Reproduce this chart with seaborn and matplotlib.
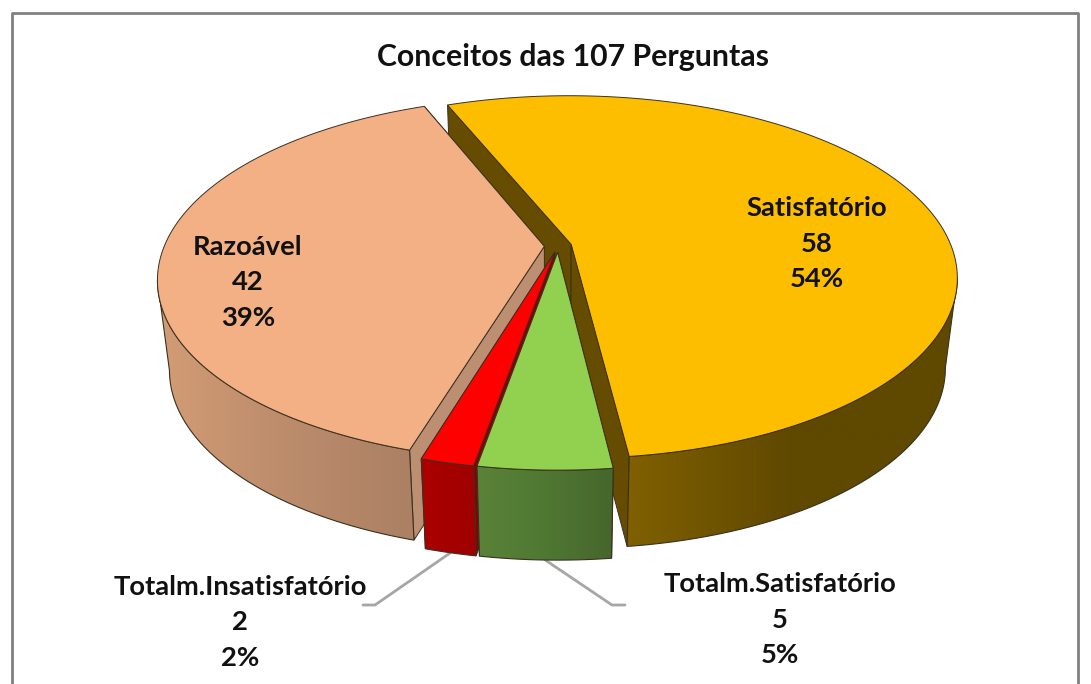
import numpy as np
import matplotlib
matplotlib.use("Agg")
import matplotlib.pyplot as plt
from matplotlib.patches import Polygon
import seaborn as sns

# dados do grafico
categorias = ["Satisfatório", "Totalm.Satisfatório", "Totalm.Insatisfatório", "Razoável"]
valores = [58, 5, 2, 42]
titulo = "Conceitos das 107 Perguntas"

cores_topo = ["#FDBE00", "#92D050", "#FF0000", "#F3B085"]
cores_parede = ["#654C00", "#4A6E2E", "#8E0000", "#BC8F73"]
cores_lado = [["#806000", "#5F4800", "#5F4800"],
              ["#5A8238", "#4F7833", "#46662C"],
              ["#AC0000", "#A50000", "#A00000"],
              ["#D39C75", "#BC8C6C", "#AB8063"]]

pos_rotulos = [(817, 208), (780, 584), (240, 587), (248, 247)]
pos_guias = [None, (612, 605, 625), (375, 605, 363), None]

angulo_inicial = -22.0
explosao = 0.036
cx, cy = 558, 246
a, b, k = 380, 176, 0.18
profundidade = 90
estreita = 0.03
contorno = "#3A3020"

sns.set_theme(style="white")
plt.rcParams["font.family"] = ["Lato", "DejaVu Sans"]


def projeta(x, y, z=0.0):
    """Passa do plano da pizza para pixels, com perspectiva (z=1 e o disco de baixo)."""
    w = 1 + k * y
    return cx + a * x / w * (1 - estreita * z), cy - b * y / w + profundidade * z


def pontos_aro(teta, ox, oy, z=0.0):
    return np.column_stack(projeta(np.sin(teta) + ox, np.cos(teta) + oy, z))


def desenha_fatia(ax, inicio, fim, cor_topo, cor_parede, cor_lado, ordem):
    meio = (inicio + fim) / 2
    ox, oy = explosao * np.sin(meio), explosao * np.cos(meio)
    teta = np.linspace(inicio, fim, 200)
    centro_topo = np.array(projeta(ox, oy, 0))
    centro_baixo = np.array(projeta(ox, oy, 1))

    # paredes internas, primeiro a mais distante
    for t in sorted((inicio, fim), key=lambda v: -np.cos(v)):
        p_topo = pontos_aro(np.array([t]), ox, oy, 0)[0]
        p_baixo = pontos_aro(np.array([t]), ox, oy, 1)[0]
        ax.add_patch(Polygon([centro_topo, p_topo, p_baixo, centro_baixo], closed=True, facecolor=cor_parede,
                             edgecolor=contorno, linewidth=0.7, zorder=ordem))

    # lado de fora, so a parte virada para quem olha
    visivel = teta[np.cos(teta) < -k]
    if len(visivel) > 1:
        cima = pontos_aro(visivel, ox, oy, 0)
        baixo = pontos_aro(visivel, ox, oy, 1)
        contorno_lado = np.vstack([cima, baixo[::-1]])
        lado = Polygon(contorno_lado, closed=True, facecolor="none", edgecolor=contorno, linewidth=0.8,
                       zorder=ordem + 0.2)
        ax.add_patch(lado)
        mapa = sns.blend_palette(cor_lado, as_cmap=True)
        x0, x1 = contorno_lado[:, 0].min(), contorno_lado[:, 0].max()
        y0, y1 = contorno_lado[:, 1].min(), contorno_lado[:, 1].max()
        gradiente = np.linspace(0, 1, 256).reshape(1, -1)
        img = ax.imshow(gradiente, cmap=mapa, extent=(x0, x1, y1, y0), aspect="auto", zorder=ordem + 0.1)
        img.set_clip_path(lado)

    # topo
    topo = np.vstack([centro_topo, pontos_aro(teta, ox, oy, 0)])
    ax.add_patch(Polygon(topo, closed=True, facecolor=cor_topo, edgecolor=contorno, linewidth=0.7,
                         zorder=ordem + 0.3))
    return meio, ox, oy


fig = plt.figure(figsize=(10.91, 6.84), dpi=100, facecolor="white")
ax = fig.add_axes([0, 0, 1, 1])

total = sum(valores)
fracoes = np.array(valores) / total * 2 * np.pi
bordas = np.radians(angulo_inicial) + np.concatenate([[0], np.cumsum(fracoes)])

# amarelo primeiro, depois razoavel, vermelho e verde por cima
for ordem, i in enumerate([0, 3, 2, 1]):
    meio, ox, oy = desenha_fatia(ax, bordas[i], bordas[i + 1], cores_topo[i], cores_parede[i], cores_lado[i],
                                 2 + ordem)
    if pos_guias[i] is not None:
        x_ini, y_ini = pontos_aro(np.array([meio]), ox, oy, 1)[0]
        x_meio, y_fim, x_fim = pos_guias[i]
        ax.plot([x_ini, x_meio, x_fim], [y_ini, y_fim, y_fim], color="#A6A6A6", linewidth=2, zorder=1)

# rotulos
for nome, valor, (x, y) in zip(categorias, valores, pos_rotulos):
    pct = round(valor / total * 100)
    for linha, texto in enumerate([nome, str(valor), f"{pct}%"]):
        ax.text(x, y + 35.5 * linha, texto, ha="center", va="center", fontsize=19.7, fontweight="bold",
                color="#111111", zorder=10)

ax.text(573, 57, titulo, ha="center", va="center", fontsize=21.8, fontweight="bold", color="#111111", zorder=10)

# moldura cortada embaixo
ax.plot([12, 12, 1078, 1078], [684, 13, 13, 684], color="#808080", linewidth=2, zorder=0.5)

ax.set_xlim(0, 1091)
ax.set_ylim(684, 0)
ax.axis("off")
fig.savefig("out.png", dpi=100, facecolor="white")
